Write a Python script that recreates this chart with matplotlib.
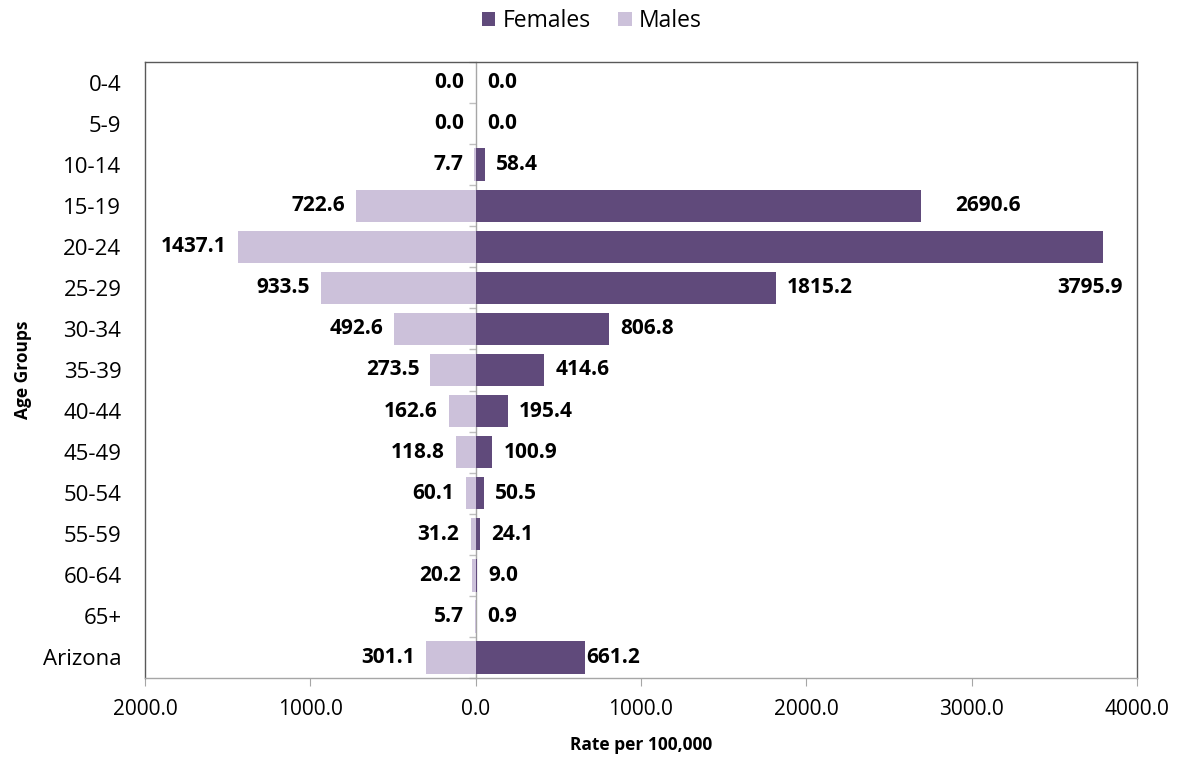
import matplotlib
matplotlib.use("Agg")
import matplotlib.pyplot as plt
from matplotlib.ticker import FuncFormatter
from matplotlib.patches import Patch
import numpy as np

plt.rcParams['font.family'] = ['Open Sans', 'DejaVu Sans']

categories = ['0-4', '5-9', '10-14', '15-19', '20-24', '25-29', '30-34', '35-39',
              '40-44', '45-49', '50-54', '55-59', '60-64', '65+', 'Arizona']
females = [0.0, 0.0, 58.4, 2690.6, 3795.9, 1815.2, 806.8, 414.6, 195.4, 100.9,
           50.5, 24.1, 9.0, 0.9, 661.2]
males = [0.0, 0.0, 7.7, 722.6, 1437.1, 933.5, 492.6, 273.5, 162.6, 118.8,
         60.1, 31.2, 20.2, 5.7, 301.1]
x_ticks = [-2000, -1000, 0, 1000, 2000, 3000, 4000]

fem_color = '#604A7B'
male_color = '#CCC1DA'

fig = plt.figure(figsize=(11.83, 7.63), dpi=100)
ax = fig.add_axes([145/1183, 1-678/763, (1137-145)/1183, (678-62)/763])

y = np.arange(len(categories))
bh = 0.79
ax.barh(y, females, height=bh, color=fem_color, linewidth=0, zorder=2)
ax.barh(y, [-m for m in males], height=bh, color=male_color, linewidth=0, zorder=2)

ax.set_xlim(-2000, 4000)
ax.set_ylim(len(categories)-0.5, -0.5)

lab_fs = 15
# male labels
for yi, m in zip(y, males):
    ax.annotate(f"{m:.1f}", xy=(-m, yi), xytext=(-8, 0), textcoords='offset points',
                ha='right', va='center', fontsize=lab_fs, fontweight='bold', color='black', zorder=3)
# female labels
fem_offsets = {3: 25, 14: 1}
for yi, f in zip(y, females):
    if f > 3700:
        ax.annotate(f"{f:.1f}", xy=(4000, yi + 1), xytext=(-10, 0), textcoords='offset points',
                    ha='right', va='center', fontsize=lab_fs, fontweight='bold', color='black', zorder=3)
    else:
        ax.annotate(f"{f:.1f}", xy=(f, yi), xytext=(fem_offsets.get(yi, 8), 0), textcoords='offset points',
                    ha='left', va='center', fontsize=lab_fs, fontweight='bold', color='black', zorder=3)

# y axis labels
ax.set_yticks(y)
ax.set_yticklabels(categories, fontsize=16)
ax.tick_params(axis='y', length=0, pad=17)

# x axis
ax.set_xticks(x_ticks)
ax.xaxis.set_major_formatter(FuncFormatter(lambda v, p: f"{abs(v):.1f}"))
ax.tick_params(axis='x', length=6, width=0.8, color='#a6a6a6', labelsize=15, pad=9, direction='out')

for s in ['left', 'top', 'right']:
    ax.spines[s].set_color('#595959')
    ax.spines[s].set_linewidth(1.0)
ax.spines['bottom'].set_color('#a6a6a6')
ax.spines['bottom'].set_linewidth(1.0)

# category axis at zero with boundary ticks
sec = ax.secondary_yaxis(2000/6000)
sec.set_yticks(np.arange(-0.5, len(categories), 1.0))
sec.set_yticklabels([])
sec.tick_params(length=5, width=1.0, color='#bfbfbf', direction='out')
sec.spines['left'].set_color('#a6a6a6')
sec.spines['left'].set_linewidth(1.0)

ax.set_xlabel('Rate per 100,000', fontsize=12.5, fontweight='bold', labelpad=12)
ax.set_ylabel('Age Groups', fontsize=12.5, fontweight='bold', labelpad=8)

handles = [Patch(facecolor=fem_color, label='Females'), Patch(facecolor=male_color, label='Males')]
fig.legend(handles=handles, loc='center', bbox_to_anchor=(0.5, 1-21/763), ncol=2, frameon=False,
           fontsize=16.5, handlelength=0.6, handleheight=0.6, handletextpad=0.3, columnspacing=1.2)

fig.savefig('out.png', dpi=100)
